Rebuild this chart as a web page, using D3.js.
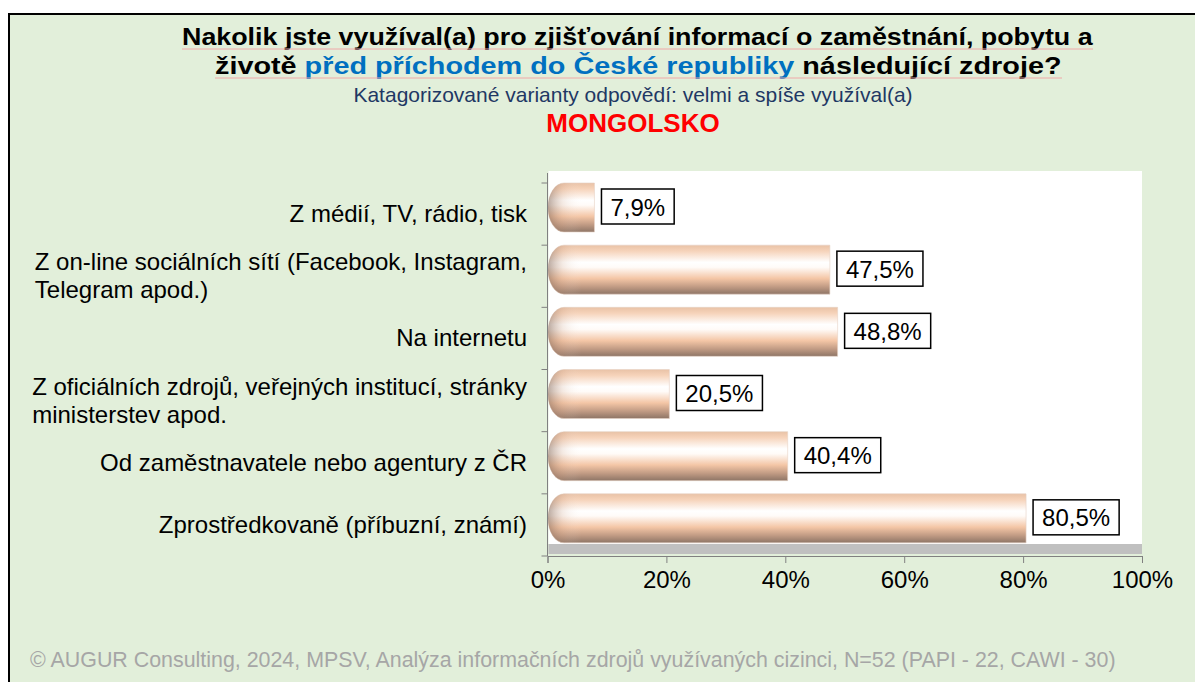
<!DOCTYPE html>
<html>
<head>
<meta charset="utf-8">
<script src="https://cdn.jsdelivr.net/npm/d3@7"></script>
<style>
  html, body { margin: 0; padding: 0; background: #fff; }
  svg { display: block; font-family: "Liberation Sans", Arial, sans-serif; }
</style>
</head>
<body>
<div id="chart"></div>
<script>
const categories = [
  "Z médií, TV, rádio, tisk",
  "Z on-line sociálních sítí (Facebook, Instagram,|Telegram apod.)",
  "Na internetu",
  "Z oficiálních zdrojů, veřejných institucí, stránky|ministerstev apod.",
  "Od zaměstnavatele nebo agentury z ČR",
  "Zprostředkovaně (příbuzní, známí)"
];
const values = [7.9, 47.5, 48.8, 20.5, 40.4, 80.5];
const xTicks = [0, 20, 40, 60, 80, 100];

const W = 1195, H = 682;
const depth = 12; // 3d wall offset
const FONT = "'Liberation Sans', Arial, sans-serif";

const svg = d3.select("#chart").append("svg")
  .attr("width", W).attr("height", H);

// frame
svg.append("rect").attr("x", 9).attr("y", 14).attr("width", W + 10).attr("height", H + 10)
  .attr("fill", "#E2EFDA").attr("stroke", "#000").attr("stroke-width", 2);

// title (stretched horizontally like the original)
const title = svg.append("g").style("font-size", "24px").style("font-weight", "bold");
const t1 = title.append("text").attr("x", 0).attr("y", 45)
  .text("Nakolik jste využíval(a) pro zjišťování informací o zaměstnání, pobytu a");
const t2 = title.append("text").attr("x", 0).attr("y", 74);
t2.append("tspan").text("životě ");
t2.append("tspan").attr("fill", "#0070C0").text("před příchodem do České republiky");
t2.append("tspan").text(" následující zdroje?");
[[t1, 182, 1093, 49], [t2, 215, 1062, 78]].forEach(([t, x0, x1, uy]) => {
  const w = t.node().getComputedTextLength();
  const k = (x1 - x0) / w;
  t.attr("transform", `translate(${x0},0) scale(${k},1)`);
  title.append("line").attr("x1", x0).attr("x2", x1)
    .attr("y1", uy).attr("y2", uy).attr("stroke", "#F0A8A8").attr("stroke-width", 1);
});

svg.append("text").attr("x", 633).attr("y", 102).attr("text-anchor", "middle")
  .style("font-size", "21px").attr("fill", "#1F3864")
  .text("Katagorizované varianty odpovědí: velmi a spíše využíval(a)");
svg.append("text").attr("x", 633).attr("y", 132).attr("text-anchor", "middle")
  .style("font-size", "26px").style("font-weight", "bold").attr("fill", "#FF0000")
  .text("MONGOLSKO");

// scales
const x = d3.scaleLinear().domain([0, 100]).range([547.5, 1142]);
const y = d3.scaleBand().domain(d3.range(categories.length)).range([183, 556]).paddingInner(0).paddingOuter(0);
const barH = 49;

// wall + floor
svg.append("rect").attr("x", x(0) + 1).attr("y", y.range()[0] - depth)
  .attr("width", x(100) - x(0) - 1).attr("height", y.range()[1] - y.range()[0])
  .attr("fill", "#fff");
svg.append("rect").attr("x", x(0) + 1).attr("y", y.range()[1] - depth)
  .attr("width", x(100) - x(0) - 1).attr("height", depth - 2)
  .attr("fill", "#C0C0C0");

// gradients
const defs = svg.append("defs");
const gv = defs.append("linearGradient").attr("id", "gv").attr("x1", 0).attr("y1", 0).attr("x2", 0).attr("y2", 1);
[[0, "#E9C2A6"], [0.12, "#F6D3BA"], [0.35, "#FFFFFF"], [0.45, "#FFFBF8"], [0.68, "#F4C6A6"], [0.85, "#C19B84"], [1, "#8E7566"]]
  .forEach(([o, c]) => gv.append("stop").attr("offset", o).attr("stop-color", c));
const gh = defs.append("linearGradient").attr("id", "gh").attr("gradientUnits", "userSpaceOnUse")
  .attr("x1", x(0)).attr("x2", x(0) + 34).attr("y1", 0).attr("y2", 0);
gh.append("stop").attr("offset", 0).attr("stop-color", "#7A5E4E").attr("stop-opacity", 0.55);
gh.append("stop").attr("offset", 0.45).attr("stop-color", "#C89F86").attr("stop-opacity", 0.2);
gh.append("stop").attr("offset", 1).attr("stop-color", "#fff").attr("stop-opacity", 0);

const rx = 16;
const barPath = (v, i) => {
  const x0 = x(0) + 0.5, x1 = x(v), y0 = y(i), y1 = y(i) + barH;
  return `M${x0 + rx},${y0} L${x1},${y0} L${x1},${y1} L${x0 + rx},${y1} ` +
    `A${rx},${barH / 2} 0 0 1 ${x0 + rx},${y0} Z`;
};

const bars = svg.append("g");
bars.selectAll("path.bar").data(values).join("path").attr("class", "bar")
  .attr("d", (d, i) => barPath(d, i)).attr("fill", "url(#gv)")
  .attr("stroke", "#E6D2C4").attr("stroke-width", 0.6);
bars.selectAll("path.shade").data(values).join("path").attr("class", "shade")
  .attr("d", (d, i) => barPath(d, i)).attr("fill", "url(#gh)");

// y axis (category ticks between bands)
const yAxis = svg.append("g").attr("stroke", "#808080");
yAxis.append("line").attr("x1", x(0)).attr("x2", x(0)).attr("y1", y.range()[0] - 10).attr("y2", y.range()[1]);
yAxis.selectAll("line.t").data(d3.range(categories.length + 1)).join("line").attr("class", "t")
  .attr("x1", x(0) - 6).attr("x2", x(0))
  .attr("y1", i => y.range()[0] + i * y.step()).attr("y2", i => y.range()[0] + i * y.step());

const xAxis = svg.append("g").attr("transform", `translate(0,${y.range()[1]})`)
  .call(d3.axisBottom(x).tickValues(xTicks).tickSize(7).tickPadding(8).tickFormat(d => d + "%"));
xAxis.select(".domain").attr("stroke", "#808080");
xAxis.selectAll(".tick line").attr("stroke", "#808080");
xAxis.selectAll(".tick text").attr("fill", "#000").style("font-size", "24px")
  .style("font-family", FONT);

// category labels
const lab = svg.append("g").style("font-size", "24px").attr("fill", "#000");
categories.forEach((c, i) => {
  const lines = c.split("|");
  const cy = y(i) + y.bandwidth() / 2;
  const lh = 28;
  const t = lab.append("text").attr("text-anchor", lines.length > 1 ? "start" : "end");
  lines.forEach((l, j) => {
    t.append("tspan").attr("x", 527).attr("y", cy + (j - (lines.length - 1) / 2) * lh + 8).text(l);
  });
  if (lines.length > 1) {
    const w = t.node().getBBox().width;
    t.selectAll("tspan").attr("x", 527 - w);
  }
});

// value labels
const vl = svg.append("g");
values.forEach((v, i) => {
  const g = vl.append("g");
  const cy = y(i) + barH / 2 - 1;
  const tx = g.append("text").attr("x", x(v) + 16).attr("y", cy + 9)
    .style("font-size", "24px").attr("fill", "#000")
    .text(v.toFixed(1).replace(".", ",") + "%");
  const bw = tx.node().getComputedTextLength();
  g.insert("rect", "text").attr("x", x(v) + 7).attr("y", cy - 17.5)
    .attr("width", bw + 18).attr("height", 35)
    .attr("fill", "#fff").attr("stroke", "#000").attr("stroke-width", 1.5);
});

// footer
svg.append("text").attr("x", 30).attr("y", 667)
  .style("font-size", "21.4px").attr("fill", "#A6A6A6")
  .text("© AUGUR Consulting, 2024, MPSV, Analýza informačních zdrojů využívaných cizinci, N=52 (PAPI - 22, CAWI - 30)");
</script>
</body>
</html>
